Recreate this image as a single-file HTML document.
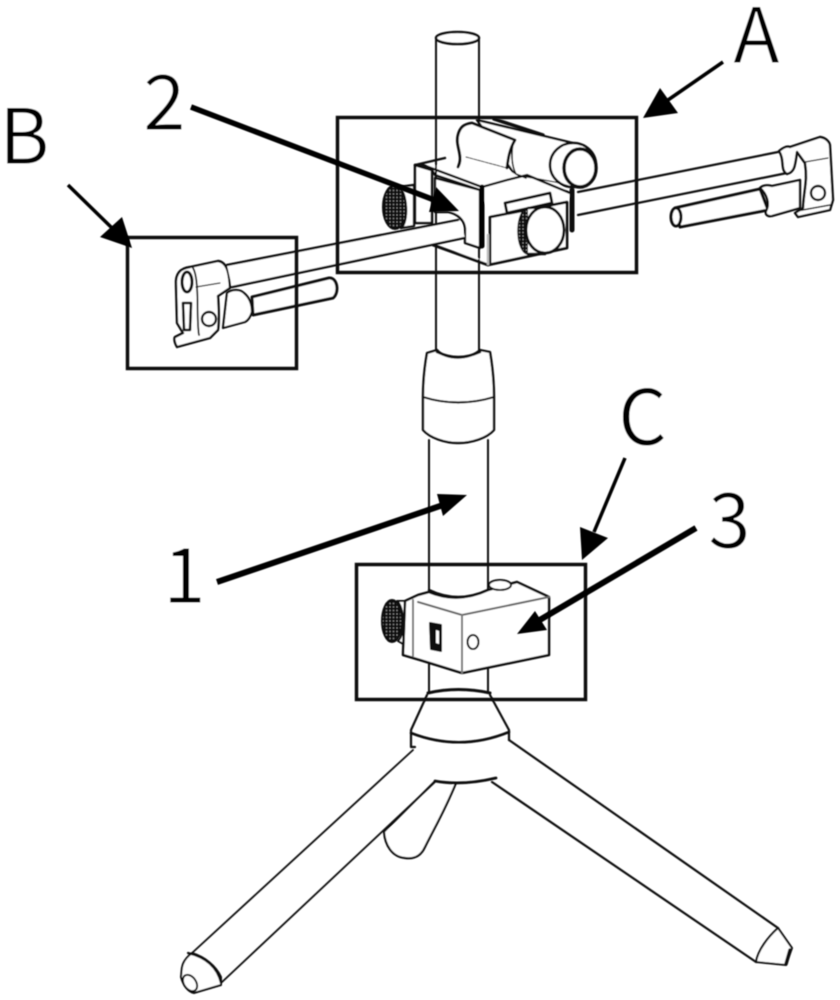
<!DOCTYPE html>
<html><head><meta charset="utf-8"><style>
html,body{margin:0;padding:0;background:#fff;width:840px;height:1000px;overflow:hidden}
svg{display:block}
text{font-family:"Noto Sans CJK SC","Liberation Sans",sans-serif;font-size:77px;fill:#000;stroke:#fff;stroke-width:1}
</style></head><body>
<svg width="840" height="1000" viewBox="0 0 840 1000" xmlns="http://www.w3.org/2000/svg">
<defs>
<filter id="b" x="-5%" y="-5%" width="110%" height="110%"><feGaussianBlur stdDeviation="0.5"/></filter>
<pattern id="h" width="3.500" height="3.500" patternUnits="userSpaceOnUse"><rect width="3.500" height="3.500" fill="#111"/><circle cx="1.500" cy="1.500" r="0.700" fill="#999"/></pattern>
</defs>
<rect width="840" height="1000" fill="#fff"/>
<g filter="url(#b)" fill="#fff" stroke="#111" stroke-width="2" stroke-linejoin="round" stroke-linecap="round">
<!-- pole upper -->
<path d="M436 38V353M479 38V353" fill="none"/>
<ellipse cx="457.500" cy="38" rx="21.500" ry="6" stroke-width="2.500"/>
<!-- tripod -->
<path d="M413 750L192 953M435 782L221 983" fill="none" stroke-width="1.800"/>
<path d="M456 783C445 810 436 825 425 847C420 858 412 859 405 858C392 857 385 845 384 832" stroke-width="2.200"/>
<path d="M435 781L384 832" fill="none" stroke-width="1.800"/>
<path d="M492 782L756 962M509 740L778 928" fill="none" stroke-width="2.200"/>
<path d="M192 953C180 962 182 970 181 977C183 985 188 992 194 993L221 985L221 977C216 966 205 957 192 953Z"/>
<path d="M188 953C205 957 217 966 221 983" fill="none" stroke-width="2.200"/>
<ellipse cx="190" cy="983" rx="6" ry="9" transform="rotate(-35 190 983)"/>
<path d="M778 928L792 948L786 965L756 962C758 950 768 937 778 928Z"/>
<path d="M790 950L786 964" fill="none" stroke-width="3.500"/>
<path d="M427 695L411 730V747H415M490 695L509 730V740" stroke-width="2.200" fill="none"/>
<path d="M411 733Q460 752 509 732" fill="none" stroke-width="2.600"/>
<path d="M435 781Q462 786 496 778" fill="none" stroke-width="2.800"/>
<!-- lower pole -->
<path d="M429 440V592M488 440V592M429 660V693M488 660V693" fill="none"/>
<path d="M428 693Q458 686 490 693" fill="none" stroke-width="3"/>
<!-- collar -->
<path d="M427 353C424 370 423 382 423 397L423 430C430 438 445 443 458 443C472 443 487 438 494 430L494 397C494 382 493 370 490 352L480 350C470 360 445 360 437 350Z" stroke-width="2.400"/>
<path d="M437 352Q458 362 480 352" fill="none" stroke-width="2.500"/>
<path d="M423 397Q458 408 494 397" fill="none" stroke-width="2.200"/>
<!-- lower block -->
<ellipse cx="392" cy="621" rx="10" ry="21" fill="url(#h)" stroke="#111"/>
<path d="M397 601C404 606 406 634 398 641L405 645V601Z" stroke-width="2"/>
<path d="M405 601L418 595L429 592Q458 604 488 590L517 582L549 597V655L462 673L420 660L403 655Z" stroke-width="2.600"/>
<path d="M418 602L462 615L549 597" fill="none" stroke="#666" stroke-width="2"/>
<path d="M462 615V673M413 600V656" fill="none" stroke="#777" stroke-width="2"/>
<path d="M429 590Q458 604 488 590" fill="none" stroke-width="2.400"/>
<ellipse cx="500" cy="585" rx="11" ry="5"/>
<path d="M430 623L441 625V651L431 649Z" fill="#111"/><path d="M436 630L439 631V644L436 643Z" fill="#fff" stroke="none"/>
<ellipse cx="473" cy="642" rx="5.500" ry="7"/>
<!-- rod -->
<path d="M227 265L460 220M232 287L463 238" fill="none" stroke-width="2.200"/>
<path d="M578 192L778 152M578 215L787 173" fill="none" stroke-width="2.200"/>
<!-- left end -->
<path d="M252 297L329 278C337 277 340 292 333 298L253 315Z" stroke-width="3"/>
<path d="M227 293C232 289 240 289 244 293C250 298 252 305 252 312C250 318 247 321 245 322L223 328Z" stroke-width="2.200"/>
<path d="M176 285C175 272 182 268 190 267L218 261C226 262 229 270 230 288L218 296C219 310 219 322 218 330L210 338L177 347C174 342 174 338 175 337L183 333L177 323Z" stroke-width="2.400"/>
<path d="M193 268C200 280 196 320 199 335" fill="none" stroke-width="1.800"/>
<path d="M196 287L220 283" fill="none" stroke-width="1.200"/>
<ellipse cx="187" cy="282" rx="5" ry="10" stroke-width="3"/>
<path d="M183 303H191L190 330H184Z" stroke-width="2.600"/>
<circle cx="209" cy="319" r="7" stroke-width="2.400"/>
<!-- right end -->
<path d="M675 208L760 189L768 210L680 227Z" stroke-width="3"/>
<ellipse cx="676" cy="217" rx="5" ry="9" stroke-width="3"/>
<path d="M760 188C763 185 768 185 772 186L800 180V208L772 216C767 217 765 214 766 211C770 204 767 194 760 188Z" stroke-width="2.400"/>
<path d="M779 151C785 146 788 146 790 147L820 137C827 138 830 143 830 146L833 200L830 210L798 217L795 213L803 208C804 190 808 180 805 163L797 152C795 165 795 172 787 174C780 170 785 160 779 151Z" stroke-width="2.400"/>
<path d="M805 162L828 158" fill="none" stroke-width="1.200"/>
<circle cx="818" cy="193" r="7" stroke-width="2.400"/>
<path d="M797 211L830 205" fill="none" stroke-width="1.500"/>
<!-- rear knob -->
<ellipse cx="395" cy="207" rx="12" ry="22" fill="url(#h)"/>
<path d="M399 187C407 192 409 222 401 228L414 226V185Z" stroke-width="2.400"/>
<!-- top cylinder -->
<path d="M477 120L573 143L557 183L515 175Z" stroke-width="2.400"/>
<path d="M494 119L543 135" fill="none" stroke-width="3.500"/>
<ellipse cx="573" cy="165" rx="23" ry="22" stroke-width="2.600"/>
<ellipse cx="580" cy="168" rx="16" ry="19" stroke-width="3.500"/>
<!-- body top -->
<path d="M423 165L458 166C464 154 455 145 458 135C460 127 464 124 472 124L515 140C509 150 508 160 508 170L518 176L557 183L570 193L568 203L490 218L482 192Z" stroke="none"/>
<path d="M458 167C464 156 455 146 458 135C460 127 464 124 472 123L515 140C509 150 508 160 507 168" fill="none" stroke-width="2.800"/>
<path d="M514 140C511 150 511 165 516 174L526 178" fill="none" stroke-width="1.600"/>
<path d="M466 157L507 168" fill="none" stroke-width="1" stroke-dasharray="3 1"/>
<path d="M482 187L507 180L527 175L570 193" fill="none" stroke-width="2.400"/>
<!-- lower tray -->
<path d="M433 245L488 265L567 248V202L490 217V262" stroke-width="2.800"/>
<path d="M505 203L550 193L552 203L507 213Z" stroke-width="2.800"/>
<path d="M572 190V230" fill="none" stroke="#111" stroke-width="5"/>
<ellipse cx="528" cy="231" rx="10" ry="23" fill="url(#h)" stroke-width="1.500"/>
<path d="M528 208L545 206L545 254L528 254Z" stroke="none"/>
<path d="M528 208L545 207M528 254L545 254" fill="none" stroke-width="2.500"/>
<ellipse cx="545" cy="230" rx="19" ry="23" stroke-width="2.800"/>
<!-- front of body -->
<path d="M415 165L445 158" fill="none" stroke-width="2.400"/>
<path d="M415 165V223H432V170Z" stroke-width="2.600"/>
<path d="M415 165L423 165L482 187L480 190L435 175L432 170Z" stroke-width="2.500"/>
<path d="M435 178L480 190V248L465 243V228C464 220 458 214 448 212L435 212Z" stroke-width="2.400"/>
<path d="M482 187V246" fill="none" stroke="#000" stroke-width="5"/>
<path d="M488 235V264" fill="none" stroke="#bbb" stroke-width="2.500"/>
<!-- rod front over clamp -->
<path d="M227 265L460 220L465 238L232 287Z" stroke="none"/>
<path d="M227 265L458 220M232 287L464 238" fill="none" stroke-width="2.400"/>
<path d="M436 249V278M479 260V278" fill="none"/>
<path d="M436 120V177" fill="none"/>
</g>
<g filter="url(#b)" stroke="#111" fill="none" stroke-linejoin="miter">
<rect x="337.500" y="117.500" width="299" height="155" stroke-width="3.500"/>
<rect x="127.500" y="237.500" width="169" height="131" stroke-width="3.500"/>
<rect x="356.500" y="564.500" width="229" height="135" stroke-width="3.500"/>
</g>
<!-- arrows -->
<g filter="url(#b)" stroke="#000" fill="#000" stroke-linejoin="miter">
<line x1="723" y1="62" x2="668" y2="100" stroke-width="3.500"/><polygon points="643,118 660,88 678,113" stroke="none"/>
<line x1="68" y1="185" x2="112" y2="228" stroke-width="3.500"/><polygon points="132,248 122,217 100,237" stroke="none"/>
<line x1="625" y1="458" x2="594" y2="532" stroke-width="3.500"/><polygon points="582,560 580,527 608,538" stroke="none"/>
<line x1="191" y1="107" x2="437" y2="201" stroke-width="5.500"/><polygon points="459,211 436,187 429,212" stroke="none"/>
<line x1="217" y1="582" x2="443" y2="505" stroke-width="6"/><polygon points="467,495 437,494 443,516" stroke="none"/>
<line x1="696" y1="528" x2="538" y2="621" stroke-width="6"/><polygon points="517,634 535,611 547,630" stroke="none"/>
</g>
<g filter="url(#b)">
<text x="733" y="63">A</text>
<text x="-1" y="164">B</text>
<text x="618" y="445">C</text>
<text x="143" y="130">2</text>
<text x="163" y="603">1</text>
<text x="708" y="548">3</text>
</g>
</svg>
</body></html>
